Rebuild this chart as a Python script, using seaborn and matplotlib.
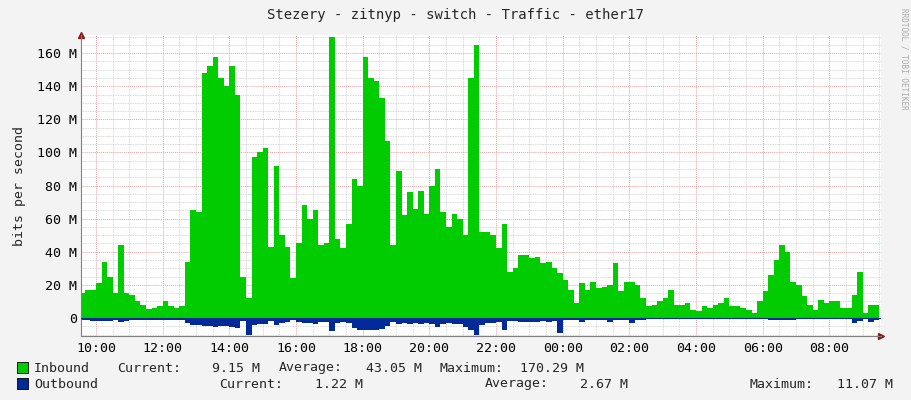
import numpy as np
import pandas as pd
import matplotlib.pyplot as plt
import matplotlib.dates as mdates
import matplotlib.ticker as mticker
import seaborn as sns

# 10-minute samples from 09:30 to 09:30 next day, values in M bit/s
start_time = '2024-01-01 09:30'
inbound = [
    15, 17, 17,                      # 09:30-09:50
    21, 34, 25, 15, 44, 15,          # 10:00
    14, 10, 8, 5.5, 6, 7,            # 11:00
    10, 7, 6, 7, 34, 65,             # 12:00
    64, 148, 152, 158, 145, 140,     # 13:00
    152, 135, 25, 12, 97, 100,       # 14:00
    103, 43, 92, 50, 43, 24,         # 15:00
    45, 68, 60, 65, 44, 45,          # 16:00
    170, 48, 42, 57, 84, 80,         # 17:00
    158, 145, 143, 133, 107, 44,     # 18:00
    89, 62, 76, 66, 77, 63,          # 19:00
    80, 90, 64, 55, 63, 60,          # 20:00
    50, 145, 165, 52, 52, 50,        # 21:00
    42, 57, 28, 30, 38, 38,          # 22:00
    36, 37, 33, 34, 30, 27,          # 23:00
    23, 17, 9, 21, 17, 22,           # 00:00
    18, 19, 20, 33, 16, 22,          # 01:00
    22, 20, 12, 7, 8, 10,            # 02:00
    12, 17, 8, 8, 9, 5,              # 03:00
    4, 7, 6, 8, 9, 12,               # 04:00
    7, 7, 6, 5, 3, 10,               # 05:00
    16, 26, 35, 44, 40, 22,          # 06:00
    20, 13, 8, 5, 11, 9,             # 07:00
    10, 10, 6, 6, 14, 28,            # 08:00
    3, 8, 8, 9,                      # 09:00-09:30
]
outbound = [
    1.5, 1.5, 1.8,
    1.8, 2.0, 2.0, 1.5, 2.5, 2.0,
    1.5, 1.2, 1.0, 1.0, 1.2, 1.2,
    1.5, 1.2, 1.0, 1.2, 3.0, 4.0,
    4.5, 5.0, 5.0, 5.5, 5.0, 5.0,
    5.5, 6.0, 2.0, 10.0, 4.0, 3.5,
    3.5, 2.0, 4.5, 3.0, 2.5, 1.5,
    2.5, 3.0, 3.0, 3.5, 2.5, 2.5,
    8.0, 3.0, 2.5, 3.0, 6.0, 7.5,
    7.5, 7.0, 7.0, 6.5, 5.0, 2.5,
    3.5, 3.0, 3.5, 3.0, 3.5, 3.0,
    3.5, 5.5, 3.5, 3.0, 3.5, 3.5,
    5.5, 7.0, 10.0, 4.0, 3.0, 3.0,
    2.5, 7.0, 2.0, 2.0, 2.5, 2.5,
    2.5, 2.5, 2.0, 2.5, 2.0, 9.0,
    1.5, 1.2, 1.0, 2.5, 1.2, 1.5,
    1.0, 1.2, 2.5, 1.5, 1.0, 1.2,
    3.0, 1.2, 1.0, 0.8, 0.6, 0.6,
    0.6, 0.8, 0.5, 0.5, 0.5, 0.4,
    0.3, 0.5, 0.5, 0.6, 0.6, 0.8,
    0.5, 0.5, 0.4, 0.4, 0.3, 0.6,
    0.8, 1.0, 1.5, 1.5, 1.2, 1.0,
    0.8, 0.6, 0.5, 0.4, 0.8, 0.6,
    0.6, 0.8, 0.5, 0.5, 3.0, 2.0,
    0.5, 2.5, 1.5, 1.2,
]

times = pd.date_range(start_time, periods=len(inbound), freq='10min')
df = pd.DataFrame({'time': times, 'in': inbound, 'out': outbound})

sns.set_style('white')
plt.rcParams['font.family'] = ['DejaVu Sans Mono']

fig = plt.figure(figsize=(9.11, 4.0), dpi=100)
fig.patch.set_facecolor('#F3F3F3')
ax = fig.add_axes([81 / 911, 64 / 400, 800 / 911, 301 / 400])
ax.set_facecolor('white')

x0 = pd.Timestamp('2024-01-01 09:33')
x1 = pd.Timestamp('2024-01-02 09:33')

ax.fill_between(df['time'], 0, df['in'], step='post', color='#00CC00', lw=0, zorder=2)
ax.fill_between(df['time'], 0, -df['out'], step='post', color='#002A97', lw=0, zorder=2)
sns.lineplot(x=[x0, x1], y=[0, 0], ax=ax, color='#002A97', lw=0.8, zorder=3)

ax.set_xlim(x0, x1)
ax.set_ylim(-10.9, 171)

ax.xaxis.set_major_locator(mdates.HourLocator(byhour=range(0, 24, 2)))
ax.xaxis.set_minor_locator(mdates.MinuteLocator(byminute=[0, 30]))
ax.xaxis.set_major_formatter(mdates.DateFormatter('%H:%M'))
ax.yaxis.set_major_locator(mticker.MultipleLocator(20))
ax.yaxis.set_minor_locator(mticker.MultipleLocator(5))
ax.yaxis.set_major_formatter(mticker.FuncFormatter(lambda v, p: '0' if v == 0 else f'{v:.0f} M'))

ax.set_axisbelow(True)
ax.grid(which='minor', color='#CCCCCC', ls=(0, (1, 1)), lw=0.6, zorder=0)
ax.grid(which='major', color='#F0A0A0', ls=(0, (1, 1)), lw=0.7, zorder=0)
for side in ['top', 'right']:
    ax.spines[side].set_visible(False)
for side in ['left', 'bottom']:
    ax.spines[side].set_color('#808080')
ax.tick_params(labelsize=9.5, colors='black', length=0, pad=3)
ax.tick_params(axis='x', pad=4)
ax.set_xlabel('')
ax.set_ylabel('bits per second', fontsize=9.5, labelpad=8)

# axis arrows
ax.plot([0], [1.0], marker='^', color='#8B1A1A', ms=4, transform=ax.transAxes, clip_on=False)
ax.plot([1.0], [0], marker='>', color='#8B1A1A', ms=4, transform=ax.transAxes, clip_on=False)

fig.text(455 / 911, 1 - 15 / 400, 'Stezery - zitnyp - switch - Traffic - ether17',
         ha='center', va='center', fontsize=10)
fig.text(904 / 911, 1 - 8 / 400, 'RRDTOOL / TOBI OETIKER', rotation=270,
         ha='center', va='top', fontsize=5.5, color='#AAAAAA')

# legend
def px(x, y):
    return x / 911, 1 - y / 400

for (yy, col) in [(368, '#00CC00'), (384, '#002A97')]:
    fig.patches.append(plt.Rectangle(px(17, yy + 5), 11 / 911, 11 / 400,
                                     transform=fig.transFigure, facecolor=col,
                                     edgecolor='black', lw=0.6))

legend_rows = [
    (368, [('Inbound', 34, 'left'), ('Current:', 117, 'left'), ('9.15 M', 260, 'right'),
           ('Average:', 279, 'left'), ('43.05 M', 422, 'right'),
           ('Maximum:', 440, 'left'), ('170.29 M', 584, 'right')]),
    (384, [('Outbound', 34, 'left'), ('Current:', 219, 'left'), ('1.22 M', 363, 'right'),
           ('Average:', 485, 'left'), ('2.67 M', 628, 'right'),
           ('Maximum:', 749, 'left'), ('11.07 M', 893, 'right')]),
]
for yy, items in legend_rows:
    for txt, xx, ha in items:
        fig.text(*px(xx, yy), txt, ha=ha, va='center', fontsize=9.5)

fig.savefig('out.png', dpi=100, facecolor=fig.get_facecolor())
